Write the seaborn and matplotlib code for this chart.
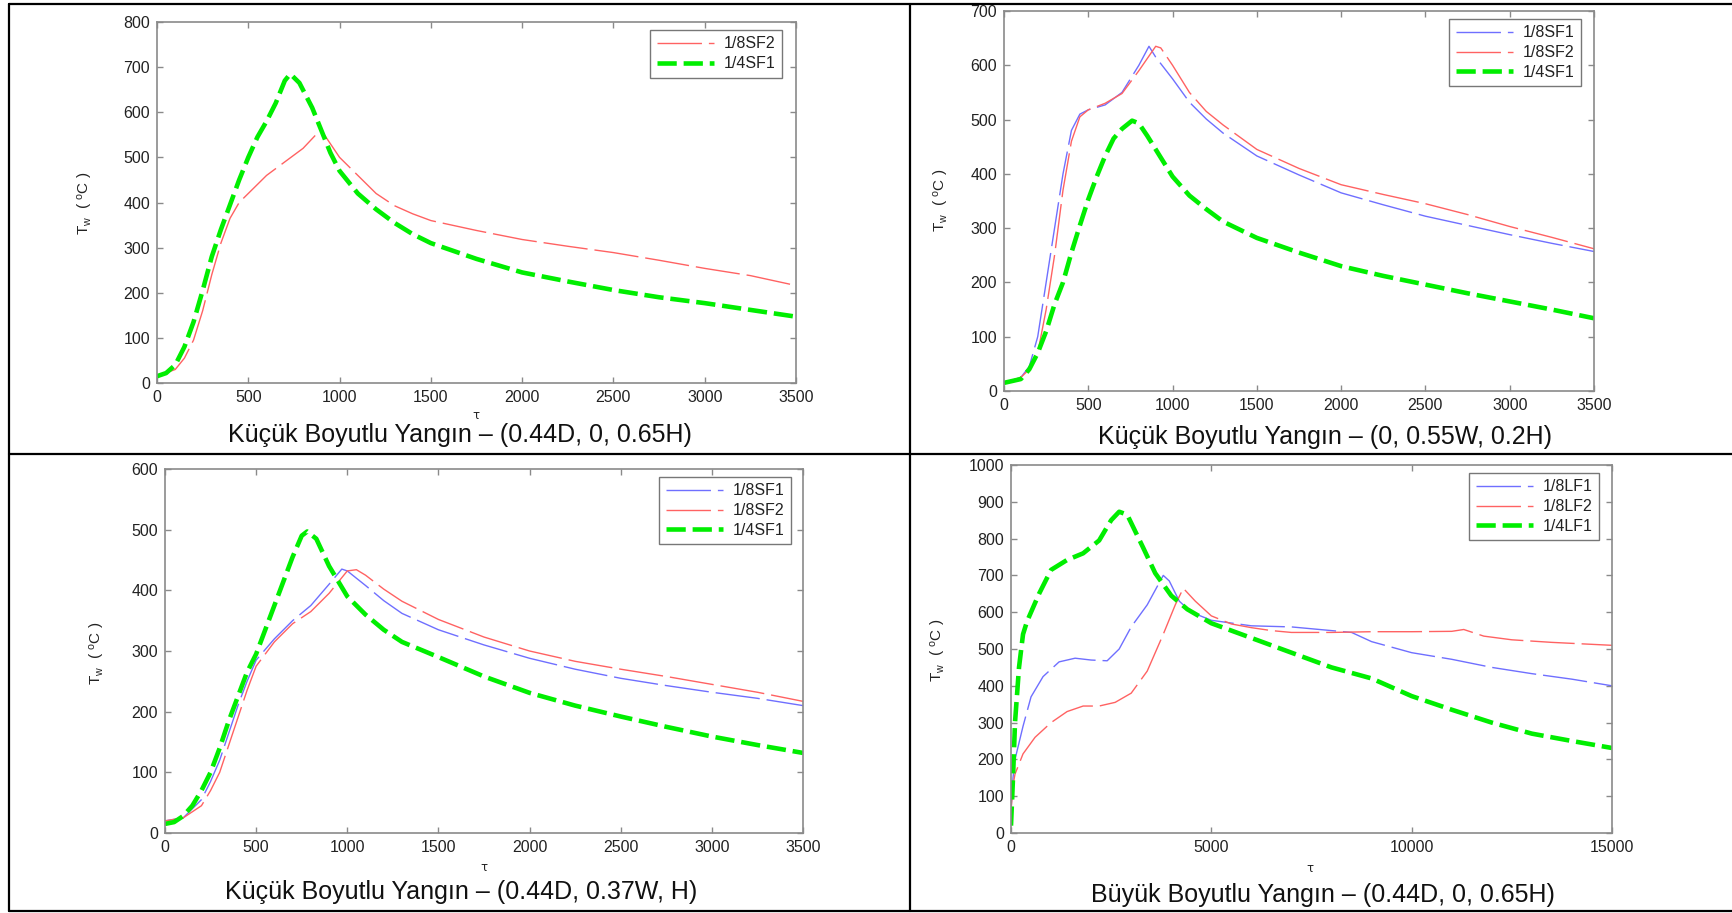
import numpy as np
import pandas as pd
import matplotlib
matplotlib.use("Agg")
import matplotlib.pyplot as plt
import seaborn as sns
from matplotlib.lines import Line2D

# ---------------- data ----------------
# Panel A: Küçük Boyutlu Yangın – (0.44D, 0, 0.65H)
a_red_x = [0,100,150,200,250,300,350,400,450,500,600,700,800,870,920,1000,1100,1200,1300,1400,1500,1750,2000,2250,2500,2750,3000,3250,3500]
a_red_y = [15,30,55,95,160,240,310,365,400,420,460,490,520,550,548,500,460,420,393,375,360,338,318,303,289,272,254,238,216]
a_green_x = [0,50,100,150,200,250,300,350,400,450,500,550,600,650,700,730,780,850,900,950,1000,1100,1200,1300,1400,1500,1750,2000,2250,2500,2750,3000,3250,3500]
a_green_y = [15,22,40,80,135,205,280,340,395,450,500,545,580,620,670,685,665,610,560,510,470,420,385,355,330,310,275,245,225,206,190,177,162,147]

# Panel B: Küçük Boyutlu Yangın – (0, 0.55W, 0.2H)
b_blue_x = [0,100,150,200,250,300,350,400,450,500,600,700,800,860,900,1000,1100,1200,1300,1500,1750,2000,2250,2500,2750,3000,3250,3500]
b_blue_y = [15,25,45,100,200,300,400,480,510,518,527,550,600,635,615,575,532,501,475,433,398,365,343,322,305,288,272,257]
b_red_x = [0,100,150,200,250,300,350,400,450,500,600,700,800,900,930,1000,1100,1200,1300,1500,1750,2000,2250,2500,2750,3000,3250,3500]
b_red_y = [15,25,40,70,150,250,370,460,505,518,530,548,590,635,632,600,550,515,490,445,410,380,362,345,325,303,283,262]
b_green_x = [0,100,150,200,250,300,350,400,450,500,550,600,650,700,760,800,850,900,1000,1100,1200,1300,1500,1750,2000,2250,2500,2750,3000,3250,3500]
b_green_y = [15,22,40,70,110,160,200,255,305,353,395,433,465,483,498,493,470,445,395,360,335,312,282,255,230,212,196,180,165,150,134]

# Panel C: Küçük Boyutlu Yangın – (0.44D, 0.37W, H)
c_blue_x = [0,100,200,250,300,350,400,450,500,600,700,800,900,970,1000,1100,1200,1300,1500,1750,2000,2250,2500,2750,3000,3250,3500]
c_blue_y = [20,25,55,85,120,165,210,250,285,320,350,375,410,435,432,408,383,362,335,310,288,270,255,243,232,222,210]
c_red_x = [0,100,200,250,300,350,400,450,500,600,700,800,900,1000,1050,1100,1200,1300,1500,1750,2000,2250,2500,2750,3000,3250,3500]
c_red_y = [20,25,45,70,100,145,190,235,275,315,345,365,395,432,434,425,402,382,352,323,300,283,270,258,245,232,217]
c_green_x = [0,50,100,150,200,250,300,350,400,450,500,550,600,650,700,750,780,830,900,1000,1100,1200,1300,1500,1750,2000,2250,2500,2750,3000,3250,3500]
c_green_y = [15,18,28,45,70,100,140,185,225,265,295,335,375,415,455,490,497,485,440,390,360,335,315,290,258,231,210,192,175,159,145,132]

# Panel D: Büyük Boyutlu Yangın – (0.44D, 0, 0.65H)
d_blue_x = [0,50,100,200,300,500,800,1200,1600,2000,2400,2700,3000,3400,3700,3800,3950,4200,4500,5000,6000,7000,8000,8500,9000,10000,11000,12000,13000,14000,15000]
d_blue_y = [60,150,200,245,290,370,425,465,475,470,468,500,560,620,680,700,685,630,600,578,563,560,550,545,520,490,472,450,433,418,400]
d_red_x = [0,50,100,300,600,1000,1400,1800,2200,2600,3000,3400,3800,4100,4300,4600,5000,5500,6000,6500,7000,8000,9000,10000,11000,11300,11800,12500,13500,15000]
d_red_y = [60,130,160,215,260,300,330,345,345,355,380,440,540,620,665,630,590,568,558,550,545,545,547,547,548,553,535,525,518,510]
d_green_x = [0,50,100,200,300,400,500,700,1000,1400,1800,2200,2500,2700,2900,3100,3300,3600,4000,4400,5000,6000,7000,7500,8000,9000,10000,11000,12000,13000,14000,15000]
d_green_y = [20,150,300,450,540,575,600,650,715,742,760,795,850,873,865,820,775,706,645,608,570,530,490,470,450,420,372,335,300,270,250,231]

titles = ["Küçük Boyutlu Yangın – (0.44D, 0, 0.65H)",
          "Küçük Boyutlu Yangın – (0, 0.55W, 0.2H)",
          "Küçük Boyutlu Yangın – (0.44D, 0.37W, H)",
          "Büyük Boyutlu Yangın – (0.44D, 0, 0.65H)"]

# ---------------- styling ----------------
sns.set_theme(style="white")
plt.rcParams['font.family'] = ['Liberation Sans', 'DejaVu Sans']
plt.rcParams['mathtext.fontset'] = 'custom'
plt.rcParams['mathtext.rm'] = 'Liberation Sans'
plt.rcParams['mathtext.it'] = 'Liberation Sans'

W, H = 1733, 913
fig = plt.figure(figsize=(W / 100, H / 100), dpi=100)
fig.patch.set_facecolor('white')

def rect(l, r, t, b):
    return [l / W, 1 - b / H, (r - l) / W, (b - t) / H]

BLUE = '#6f6fff'
RED = '#ff6262'
GREEN = '#00ee00'
thin_ls = (0, (32, 5))
thick_ls = (0, (4.2, 1.5))

panels = [
    dict(rect=rect(157, 796, 22, 383), xlim=3500, xstep=500, ylim=800,
         series=[(a_red_x, a_red_y, RED, '1/8SF2', 'thin'),
                 (a_green_x, a_green_y, GREEN, '1/4SF1', 'thick')],
         legend=(782, 30), title=(460, 435), tau=(476, 415), ylab=(86, 203)),
    dict(rect=rect(1004, 1594, 11, 391), xlim=3500, xstep=500, ylim=700,
         series=[(b_blue_x, b_blue_y, BLUE, '1/8SF1', 'thin'),
                 (b_red_x, b_red_y, RED, '1/8SF2', 'thin'),
                 (b_green_x, b_green_y, GREEN, '1/4SF1', 'thick')],
         legend=(1581, 19), title=(1325, 437), tau=None, ylab=(942, 200)),
    dict(rect=rect(165, 803, 469, 833), xlim=3500, xstep=500, ylim=600,
         series=[(c_blue_x, c_blue_y, BLUE, '1/8SF1', 'thin'),
                 (c_red_x, c_red_y, RED, '1/8SF2', 'thin'),
                 (c_green_x, c_green_y, GREEN, '1/4SF1', 'thick')],
         legend=(791, 477), title=(461, 892), tau=(484, 867), ylab=(98, 653)),
    dict(rect=rect(1011, 1612, 465, 833), xlim=15000, xstep=5000, ylim=1000,
         series=[(d_blue_x, d_blue_y, BLUE, '1/8LF1', 'thin'),
                 (d_red_x, d_red_y, RED, '1/8LF2', 'thin'),
                 (d_green_x, d_green_y, GREEN, '1/4LF1', 'thick')],
         legend=(1599, 473), title=(1323, 895), tau=(1310, 868), ylab=(939, 650)),
]

for i, p in enumerate(panels):
    ax = fig.add_axes(p['rect'])
    for xs, ys, col, lab, kind in p['series']:
        df = pd.DataFrame({'t': xs, 'T': ys})
        if kind == 'thin':
            sns.lineplot(data=df, x='t', y='T', ax=ax, color=col, lw=1.0,
                         linestyle=thin_ls, label=lab)
        else:
            sns.lineplot(data=df, x='t', y='T', ax=ax, color=col, lw=3.3,
                         linestyle=thick_ls, label=lab)
    ax.set_xlim(0, p['xlim'])
    ax.set_ylim(0, p['ylim'])
    ax.set_xticks(np.arange(0, p['xlim'] + 1, p['xstep']))
    ax.set_yticks(np.arange(0, p['ylim'] + 1, 100))
    ax.set_xlabel('')
    ax.set_ylabel('')
    for sp in ax.spines.values():
        sp.set_visible(True)
        sp.set_color('#8a8a8a')
        sp.set_linewidth(1.2)
    ax.tick_params(direction='in', length=4, width=1, color='#8a8a8a',
                   top=True, right=True, bottom=True, left=True,
                   labelsize=11.5, labelcolor='#222222', pad=5)
    lx, ly = p['legend']
    leg = ax.legend(loc='upper right', bbox_to_anchor=(lx / W, 1 - ly / H),
                    bbox_transform=fig.transFigure, borderaxespad=0,
                    fontsize=11.5, frameon=True, fancybox=False, shadow=False,
                    handlelength=3.6, handletextpad=0.6, labelspacing=0.3,
                    borderpad=0.4)
    leg.get_frame().set_edgecolor('#555555')
    leg.get_frame().set_linewidth(1.0)
    for t in leg.get_texts():
        t.set_color('#222222')
    tx, ty = p['title']
    fig.text(tx / W, 1 - ty / H, titles[i], ha='center', va='center',
             fontsize=18, color='#111111')
    if p['tau'] is not None:
        ux, uy = p['tau']
        fig.text(ux / W, 1 - uy / H, 'τ', ha='center', va='center',
                 fontsize=8.5, color='#222222', family=['DejaVu Sans'])
    yx, yy = p['ylab']
    fig.text(yx / W, 1 - yy / H, r'T$_w$  ( $^o$C )', rotation=90,
             ha='center', va='center', fontsize=11, color='#222222')

# table borders
def hline(y, x0, x1):
    fig.add_artist(Line2D([x0 / W, x1 / W], [1 - y / H, 1 - y / H],
                          transform=fig.transFigure, color='black', lw=1.6))

def vline(x, y0, y1):
    fig.add_artist(Line2D([x / W, x / W], [1 - y0 / H, 1 - y1 / H],
                          transform=fig.transFigure, color='black', lw=1.6))

hline(4, 9, W)
hline(454, 9, W)
hline(911, 9, W)
vline(9, 4, 911)
vline(910, 4, 911)

fig.savefig('out.png', dpi=100, facecolor='white')
